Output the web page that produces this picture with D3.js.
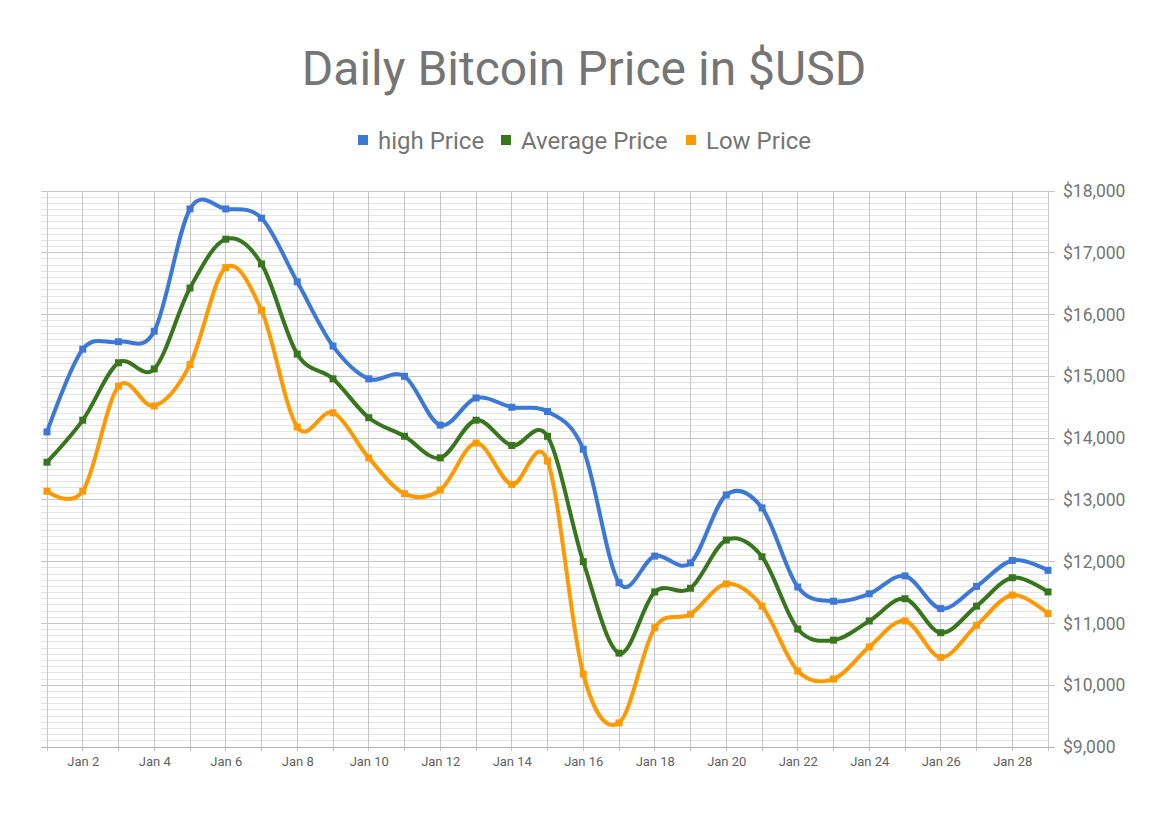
<!DOCTYPE html>
<html><head><meta charset="utf-8">
<script src="https://cdn.jsdelivr.net/npm/d3@7"></script>
<style>body{margin:0;background:#fff;font-family:Roboto,"Open Sans",sans-serif}</style>
</head><body><svg id="c" width="1168" height="813"></svg>
<script>
const days = d3.range(1, 30).map(d => "Jan " + d);
const highPrice = [14100,15440,15560,15730,17710,17710,17560,16530,15490,14960,15000,14210,14650,14500,14430,13820,11660,12090,11980,13080,12870,11590,11360,11480,11770,11240,11600,12020,11860];
const avgPrice = [13610,14290,15220,15120,16430,17220,16820,15360,14960,14330,14030,13680,14290,13880,14030,12000,10520,11510,11570,12350,12080,10910,10730,11040,11400,10850,11280,11740,11510];
const lowPrice = [13140,13140,14840,14520,15190,16760,16070,14180,14410,13680,13100,13160,13920,13250,13630,10180,9390,10930,11150,11640,11280,10230,10100,10620,11040,10450,10970,11460,11160];
const seriesNames = ["high Price","Average Price","Low Price"];
const seriesColors = ["#3c78d8","#38761d","#ff9900"];
const yTicks = [9000,10000,11000,12000,13000,14000,15000,16000,17000,18000];

const svg = d3.select("#c");
const x = d3.scalePoint().domain(days).range([47, 1048]);
const y = d3.scaleLinear().domain([9000, 18000]).range([747, 191]);

// minor gridlines
const minor = d3.range(9000, 18001, 100).filter(v => v % 1000 !== 0);
svg.append("g").selectAll("line").data(minor).join("line")
  .attr("x1", 41).attr("x2", 1048).attr("y1", d => y(d)).attr("y2", d => y(d))
  .attr("stroke", "#e4e4e4").attr("stroke-width", 1).attr("shape-rendering","crispEdges");
// vertical gridlines
svg.append("g").selectAll("line").data(days).join("line")
  .attr("x1", d => x(d)).attr("x2", d => x(d)).attr("y1", 191).attr("y2", 751)
  .attr("stroke", "#c6c6c6").attr("stroke-width", 1).attr("shape-rendering","crispEdges");
// major gridlines
svg.append("g").selectAll("line").data(yTicks).join("line")
  .attr("x1", 41).attr("x2", 1055).attr("y1", d => y(d)).attr("y2", d => y(d))
  .attr("stroke", d => d === 9000 ? "#b0b0b0" : "#c6c6c6").attr("stroke-width", 1).attr("shape-rendering","crispEdges");

// y axis labels (right)
const yAxis = d3.axisRight(y).tickValues(yTicks).tickSize(0).tickPadding(15)
  .tickFormat(d => "$" + d3.format(",")(d));
const ga = svg.append("g").attr("transform", "translate(1048,0)").call(yAxis);
ga.select(".domain").remove();
ga.selectAll("text").attr("fill", "#757575").attr("font-size", 17.5).attr("font-family", "Roboto");

// x axis labels
const xAxis = d3.axisBottom(x).tickValues(days.filter((d, i) => i % 2 === 1)).tickSize(0).tickPadding(9);
const gx = svg.append("g").attr("transform", "translate(0,748)").call(xAxis);
gx.select(".domain").remove();
gx.selectAll("text").attr("fill", "#5f5f5f").attr("font-size", 13).attr("font-family", "Roboto");

// lines
const data = [highPrice, avgPrice, lowPrice];
const line = d3.line().x((d, i) => x(days[i])).y(d => y(d)).curve(d3.curveCatmullRom.alpha(0));
data.forEach((s, k) => {
  svg.append("path").datum(s).attr("d", line).attr("fill", "none")
    .attr("stroke", seriesColors[k]).attr("stroke-width", 4).attr("stroke-linejoin","round");
  svg.append("g").selectAll("rect").data(s).join("rect")
    .attr("x", (d, i) => x(days[i]) - 3.5).attr("y", d => y(d) - 3.5)
    .attr("width", 7).attr("height", 7).attr("fill", seriesColors[k]);
});

// title
svg.append("text").attr("x", 584).attr("y", 85).attr("text-anchor", "middle")
  .attr("font-size", 48).attr("fill", "#757575").attr("font-family", "Roboto").text("Daily Bitcoin Price in $USD");

// legend
const legendX = [358, 501, 686];
seriesNames.forEach((n, k) => {
  const g = svg.append("g").attr("transform", `translate(${legendX[k]},140)`);
  g.append("rect").attr("x", 0).attr("y", -5).attr("width", 10).attr("height", 10).attr("fill", seriesColors[k]);
  g.append("text").attr("x", 20).attr("y", 8.5).attr("font-size", 24).attr("fill", "#757575")
    .attr("font-family", "Roboto").text(n);
});
</script></body></html>
